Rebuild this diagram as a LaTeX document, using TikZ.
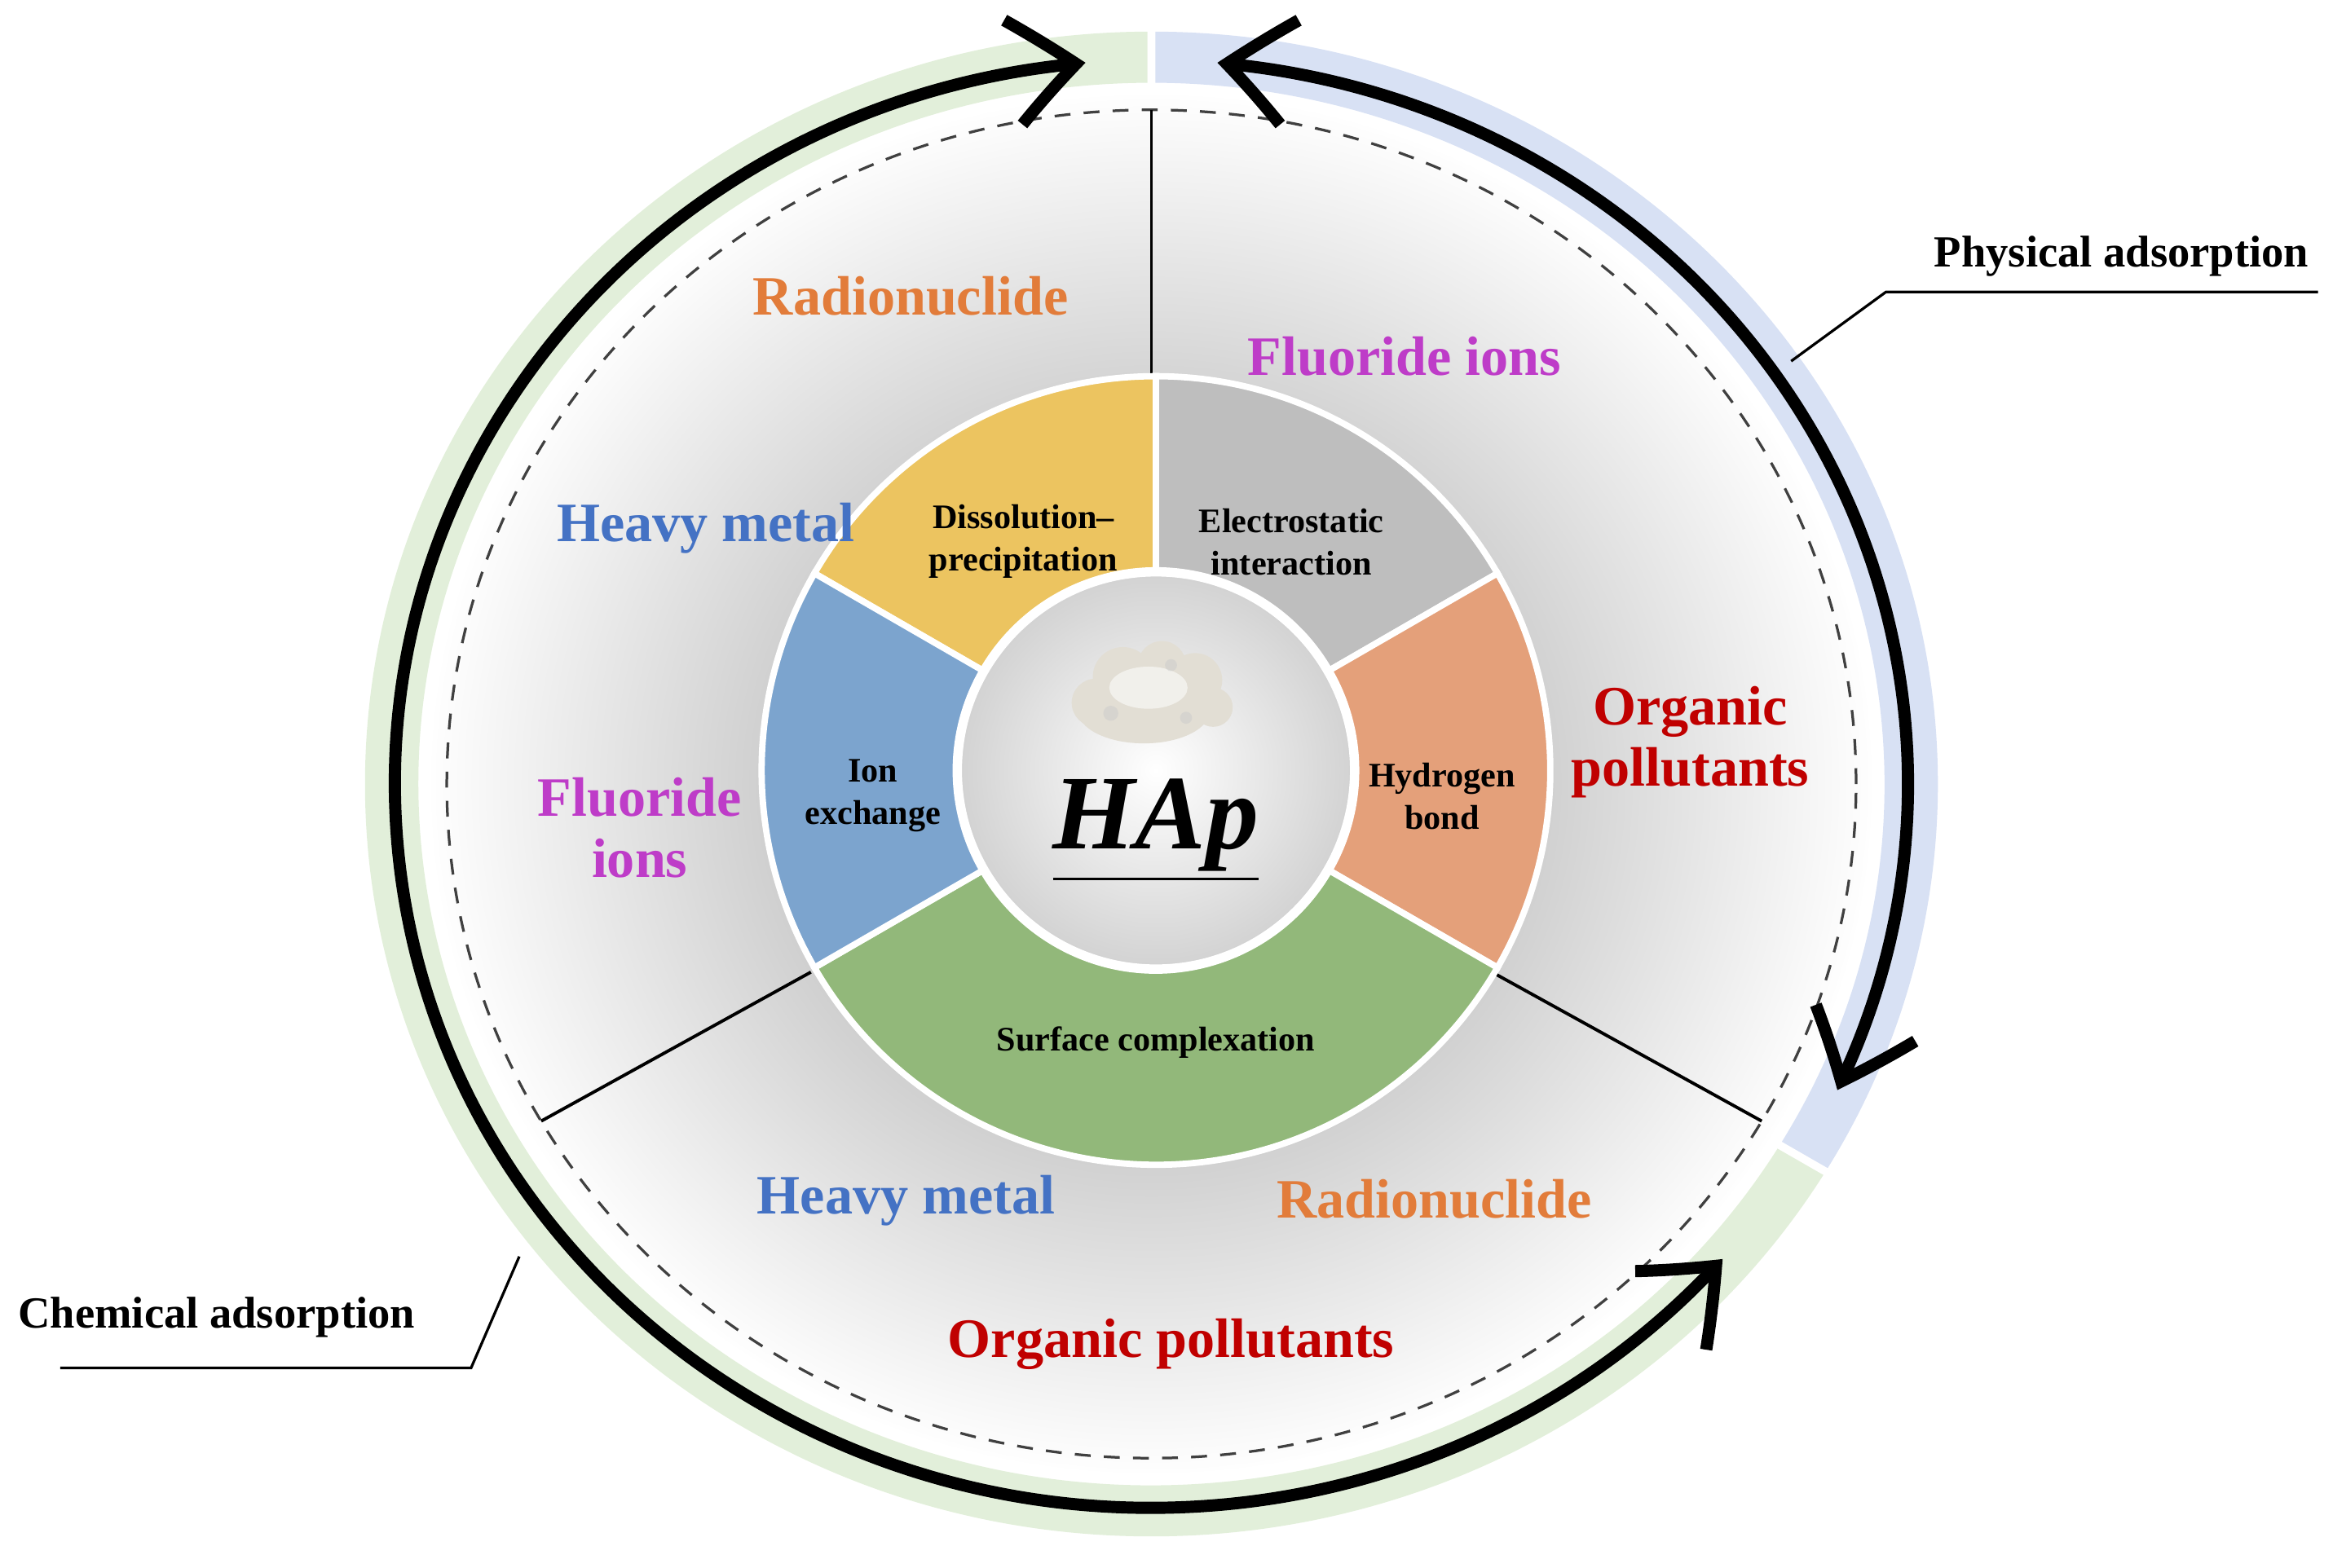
\documentclass[tikz,border=0pt]{standalone}
\usepackage{fontspec}
\setmainfont{Liberation Serif}
\usetikzlibrary{arrows.meta,bending}
\definecolor{bandG}{RGB}{226,239,218}
\definecolor{bandB}{RGB}{216,225,244}
\definecolor{secY}{RGB}{236,196,96}
\definecolor{secGr}{RGB}{190,190,190}
\definecolor{secO}{RGB}{228,160,122}
\definecolor{secG}{RGB}{146,184,122}
\definecolor{secB}{RGB}{124,164,206}
\definecolor{cOr}{RGB}{226,124,58}
\definecolor{cBl}{RGB}{68,114,196}
\definecolor{cMg}{RGB}{190,60,200}
\definecolor{cRd}{RGB}{192,0,0}
\definecolor{powder}{RGB}{226,222,212}
\tikzset{
 big/.style={font=\fontsize{10.5}{11.5}\selectfont\bfseries, align=center},
 small/.style={font=\fontsize{6.5}{8}\selectfont\bfseries, align=center},
 callout/.style={font=\fontsize{8.4}{10}\selectfont\bfseries, inner sep=1pt},
 sector/.style={draw=white, line width=1.2pt},
 ringarrow/.style={line width=2.3pt, {Straight Barb[length=12pt,width=20pt,line width=2.3pt,bend]}-{Straight Barb[length=12pt,width=20pt,line width=2.3pt,bend]}},
 sepline/.style={line width=0.6pt, black},
 grain/.style={fill=powder}
}
\begin{document}
\begin{tikzpicture}[x=0.01cm,y=0.01cm]
\useasboundingbox (0,0) rectangle (1550,-1042);
\begin{scope}[shift={(765,-521)}, xscale=1.045]
% band
\fill[bandG] (90:500) arc[start angle=90,end angle=329,radius=500] -- (329:466) arc[start angle=329,end angle=90,radius=466] -- cycle;
\fill[bandB] (90:500) arc[start angle=90,end angle=-31,radius=500] -- (-31:466) arc[start angle=-31,end angle=90,radius=466] -- cycle;
\draw[white, line width=1.5pt] (90:464) -- (90:502) (-31:464) -- (-31:502);
% gray disk
\begin{scope}
\clip (0,0) circle (458);
\shade[inner color=gray!80, outer color=white] (0,0) circle (462);
\end{scope}
\draw[dashed, line width=0.5pt, black!75, dash pattern=on 3pt off 2.5pt] (0,0) circle (448);
% separators
\draw[sepline] (90:255) -- (90:448);
\draw[sepline] (210:250) -- (210:448);
\draw[sepline] (-30:250) -- (-30:448);
% arrows
\draw[ringarrow] (95:481) arc[start angle=95,end angle=319,radius=481];
\draw[ringarrow] (85:481) arc[start angle=85,end angle=-25,radius=481];
\end{scope}
\begin{scope}[shift={(768,-512)}]
% sectors
\fill[secY, sector] (90:262) arc[start angle=90,end angle=150,radius=262] -- (150:133) arc[start angle=150,end angle=90,radius=133] -- cycle;
\fill[secGr, sector] (30:262) arc[start angle=30,end angle=90,radius=262] -- (90:133) arc[start angle=90,end angle=30,radius=133] -- cycle;
\fill[secO, sector] (-30:262) arc[start angle=-30,end angle=30,radius=262] -- (30:133) arc[start angle=30,end angle=-30,radius=133] -- cycle;
\fill[secG, sector] (210:262) arc[start angle=210,end angle=330,radius=262] -- (330:133) arc[start angle=330,end angle=210,radius=133] -- cycle;
\fill[secB, sector] (150:262) arc[start angle=150,end angle=210,radius=262] -- (210:133) arc[start angle=210,end angle=150,radius=133] -- cycle;
% center
\shade[inner color=white, outer color=gray!35, draw=white, line width=1.2pt] (0,0) circle (131);
% powder
\fill[grain] (-40,45) circle (16);
\fill[grain] (-22,62) circle (20);
\fill[grain] (4,70) circle (16);
\fill[grain] (26,60) circle (18);
\fill[grain] (38,42) circle (13);
\fill[grain] (-8,40) ellipse (44 and 22);
\fill[white, opacity=0.55] (-5,55) ellipse (26 and 14);
\fill[black!20, opacity=0.5] (-30,38) circle (5) (20,35) circle (4) (10,70) circle (4);
\end{scope}
% HAp
\node (hap) at (768,-552) {\fontsize{20}{24}\selectfont\bfseries\itshape\underline{HAp}};
% inner labels
\node[small] (dis) at (680,-360) {Dissolution–\\precipitation};
\node[small] (ele) at (858,-360) {Electrostatic\\interaction};
\node[small] (ion) at (580,-529) {Ion\\exchange};
\node[small] (hyd) at (958,-529) {Hydrogen\\bond};
\node[small] (sur) at (768,-693) {Surface complexation};
% outer labels
\node[big, text=cOr] (r1) at (605,-197) {Radionuclide};
\node[big, text=cMg] (f1) at (933,-237) {Fluoride ions};
\node[big, text=cBl] (h1) at (469,-351) {Heavy metal};
\node[big, text=cRd] (o1) at (1123,-493) {Organic\\pollutants};
\node[big, text=cMg] (f2) at (425,-550) {Fluoride\\ions};
\node[big, text=cBl] (h2) at (602,-798) {Heavy metal};
\node[big, text=cOr] (r2) at (953,-797) {Radionuclide};
\node[big, text=cRd] (o2) at (778,-893) {Organic pollutants};
% callouts
\node[callout, anchor=south east] (phys) at (1538,-188) {Physical adsorption};
\coordinate (pe) at (1540,-194);
\coordinate (p1) at (1253,-194);
\coordinate (p2) at (1190,-240);
\draw[line width=0.5pt] (pe) -- (p1) -- (p2);
\node[callout, anchor=south west] (chem) at (8,-893) {Chemical adsorption};
\coordinate (ce) at (40,-909);
\coordinate (c1) at (313,-909);
\coordinate (c2) at (345,-835);
\draw[line width=0.5pt] (ce) -- (c1) -- (c2);
\end{tikzpicture}
\end{document}
